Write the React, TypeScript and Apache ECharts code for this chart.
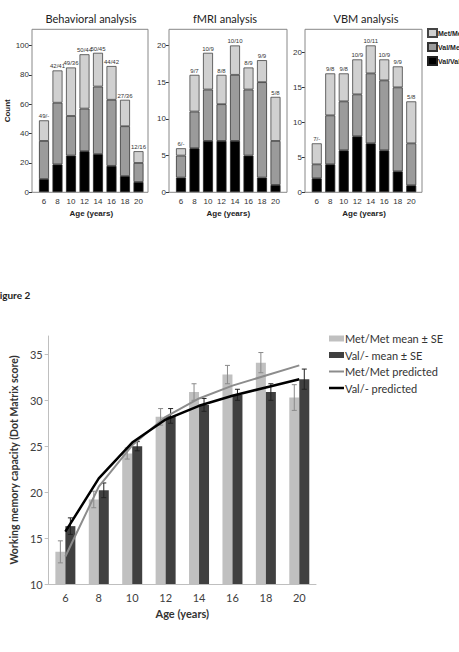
import React, { useEffect, useRef } from "react";
import * as echarts from "echarts";

// Age groups shared by every panel
const ages = ["6", "8", "10", "12", "14", "16", "18", "20"];

// Behavioral sample, counts per genotype
const behavValVal = [9, 19, 25, 28, 26, 18, 11, 7];
const behavValMet = [26, 42, 27, 29, 46, 45, 34, 13];
const behavMetMet = [14, 22, 33, 37, 23, 23, 18, 8];
const behavLabels = ["49/-", "42/41", "49/36", "50/44", "50/45", "44/42", "27/36", "12/16"];

// fMRI sample
const fmriValVal = [2, 6, 7, 7, 7, 5, 2, 1];
const fmriValMet = [3, 5, 7, 5, 9, 9, 13, 6];
const fmriMetMet = [1, 5, 5, 4, 4, 3, 3, 6];
const fmriLabels = ["6/-", "9/7", "10/9", "8/8", "10/10", "8/9", "9/9", "5/8"];

// VBM sample
const vbmValVal = [2, 4, 6, 8, 7, 6, 3, 1];
const vbmValMet = [2, 7, 7, 6, 10, 10, 12, 6];
const vbmMetMet = [3, 6, 4, 5, 4, 3, 3, 6];
const vbmLabels = ["7/-", "9/8", "9/8", "10/9", "10/11", "10/9", "9/9", "5/8"];

// Working memory (Dot Matrix score) by genotype group
const metMean = [13.5, 19.2, 24.2, 28.2, 30.9, 32.8, 34.1, 30.3];
const metSE = [1.2, 0.9, 0.6, 0.9, 0.9, 1.0, 1.1, 1.4];
const valMean = [16.3, 20.2, 25.0, 28.3, 29.5, 30.6, 30.9, 32.3];
const valSE = [0.9, 0.8, 0.5, 0.8, 0.7, 0.6, 0.9, 1.1];
const metPred = [13.0, 20.6, 25.1, 28.2, 30.2, 31.6, 32.7, 33.8];
const valPred = [15.7, 21.5, 25.4, 27.9, 29.4, 30.5, 31.4, 32.3];

// [min, max, interval] of each count axis
const behavAxis = [0, 111, 20];
const fmriAxis = [0, 22.2, 5];
const vbmAxis = [0, 23.3, 5];

const ARIAL = "Liberation Sans";
const CAL = "Lato";

const C_LIGHT = "#d0d0d0";
const C_MID = "#9b9b9b";
const C_DARK = "#000000";

export default function App() {
  const ref = useRef<HTMLDivElement>(null);

  useEffect(() => {
    if (!ref.current) return;
    const chart = echarts.init(ref.current, null, { renderer: "svg" });

    const panels = [
      { title: "Behavioral analysis", vv: behavValVal, vm: behavValMet, mm: behavMetMet, labels: behavLabels, ax: behavAxis, gridLeft: 37.25, frameX: 32, frameW: 116, yName: "Count", titleX: 91 },
      { title: "fMRI analysis", vv: fmriValVal, vm: fmriValMet, mm: fmriMetMet, labels: fmriLabels, ax: fmriAxis, gridLeft: 174.25, frameX: 169, frameW: 118, yName: "", titleX: 225 },
      { title: "VBM analysis", vv: vbmValVal, vm: vbmValMet, mm: vbmMetMet, labels: vbmLabels, ax: vbmAxis, gridLeft: 310, frameX: 305, frameW: 117, yName: "", titleX: 366 },
    ];

    const TOP = 29.3;
    const H = 163;

    const grids: any[] = [];
    const xAxes: any[] = [];
    const yAxes: any[] = [];
    const series: any[] = [];
    const graphics: any[] = [];

    panels.forEach((p, i) => {
      grids.push({ left: p.gridLeft, top: TOP, width: 108, height: H });
      xAxes.push({
        type: "category",
        gridIndex: i,
        data: ages,
        axisLine: { show: false },
        axisTick: { alignWithLabel: true, length: 3, lineStyle: { color: "#333" } },
        axisLabel: { fontFamily: ARIAL, fontSize: 8, color: "#333", margin: 5 },
        name: "Age (years)",
        nameLocation: "middle",
        nameGap: 17,
        nameTextStyle: { fontFamily: ARIAL, fontSize: 8, fontWeight: "bold", color: "#222" },
      });
      yAxes.push({
        type: "value",
        gridIndex: i,
        min: p.ax[0],
        max: p.ax[1],
        interval: p.ax[2],
        offset: p.gridLeft - p.frameX,
        axisLine: { show: false },
        axisTick: { show: true, length: 3, lineStyle: { color: "#333" } },
        splitLine: { show: false },
        axisLabel: { fontFamily: ARIAL, fontSize: 8, color: "#333", margin: 3, showMaxLabel: false },
        name: p.yName,
        nameLocation: "middle",
        nameGap: 13,
        nameTextStyle: { fontFamily: ARIAL, fontSize: 8, fontWeight: "bold", color: "#222" },
      });
      const common = {
        type: "bar",
        xAxisIndex: i,
        yAxisIndex: i,
        stack: "p" + i,
        barWidth: 10,
      };
      series.push({ ...common, name: "Val/Val", data: p.vv, itemStyle: { color: C_DARK, borderColor: "#222", borderWidth: 0.8 } });
      series.push({ ...common, name: "Val/Met", data: p.vm, itemStyle: { color: C_MID, borderColor: "#333", borderWidth: 0.8 } });
      series.push({
        ...common,
        name: "Met/Met",
        data: p.mm,
        itemStyle: { color: C_LIGHT, borderColor: "#444", borderWidth: 0.8 },
        label: {
          show: true,
          position: "top",
          distance: 1,
          fontFamily: ARIAL,
          fontSize: 6,
          color: "#333",
          formatter: (d: any) => p.labels[d.dataIndex],
        },
      });
      graphics.push({
        type: "rect",
        shape: { x: p.frameX, y: TOP, width: p.frameW, height: H },
        style: { fill: "none", stroke: "#888", lineWidth: 1 },
        z: 10,
      });
      graphics.push({
        type: "text",
        x: p.titleX,
        y: 18,
        style: { text: p.title, font: `11px ${CAL}`, fill: "#222", textAlign: "center", textVerticalAlign: "middle" },
      });
    });

    // Working memory chart
    grids.push({ left: 44, top: 336, width: 272, height: 248 });
    xAxes.push({
      type: "category",
      gridIndex: 3,
      data: ages,
      axisLine: { lineStyle: { color: "#bfbfbf" } },
      axisTick: { length: 4, lineStyle: { color: "#bfbfbf" } },
      axisLabel: { fontFamily: CAL, fontSize: 11, color: "#404040", margin: 8 },
      name: "Age (years)",
      nameLocation: "middle",
      nameGap: 24,
      nameTextStyle: { fontFamily: CAL, fontSize: 11, fontWeight: "bold", color: "#333" },
    });
    yAxes.push({
      type: "value",
      gridIndex: 3,
      min: 10,
      max: 37,
      interval: 5,
      axisLine: { show: true, lineStyle: { color: "#bfbfbf" } },
      axisTick: { show: true, length: 4, lineStyle: { color: "#bfbfbf" } },
      splitLine: { show: false },
      axisLabel: { fontFamily: CAL, fontSize: 11, color: "#404040", margin: 6, showMaxLabel: false },
      name: "Working memory capacity (Dot Matrix score)",
      nameLocation: "middle",
      nameGap: 22,
      nameTextStyle: { fontFamily: CAL, fontSize: 10.5, fontWeight: "bold", color: "#333" },
    });

    series.push({
      type: "bar",
      name: "Met/Met mean ± SE",
      xAxisIndex: 3,
      yAxisIndex: 3,
      data: metMean,
      barWidth: 10,
      barGap: "0%",
      itemStyle: { color: "#c0c0c0" },
    });
    series.push({
      type: "bar",
      name: "Val/- mean ± SE",
      xAxisIndex: 3,
      yAxisIndex: 3,
      data: valMean,
      barWidth: 10,
      barGap: "0%",
      itemStyle: { color: "#404040" },
    });

    const errorSeries = (mean: number[], se: number[], dx: number, color: string) => ({
      type: "custom",
      xAxisIndex: 3,
      yAxisIndex: 3,
      z: 5,
      data: mean.map((m, i) => [i, m, se[i]]),
      encode: { x: 0, y: 1 },
      renderItem: (_params: any, api: any) => {
        const idx = api.value(0);
        const m = api.value(1);
        const s = api.value(2);
        const hi = api.coord([idx, m + s]);
        const lo = api.coord([idx, m - s]);
        const x = hi[0] + dx;
        const st = { stroke: color, lineWidth: 1 };
        return {
          type: "group",
          children: [
            { type: "line", shape: { x1: x, y1: hi[1], x2: x, y2: lo[1] }, style: st },
            { type: "line", shape: { x1: x - 2.5, y1: hi[1], x2: x + 2.5, y2: hi[1] }, style: st },
            { type: "line", shape: { x1: x - 2.5, y1: lo[1], x2: x + 2.5, y2: lo[1] }, style: st },
          ],
        };
      },
    });
    series.push(errorSeries(metMean, metSE, -5, "#8a8a8a"));
    series.push(errorSeries(valMean, valSE, 5, "#222"));

    series.push({
      type: "line",
      name: "Met/Met predicted",
      xAxisIndex: 3,
      yAxisIndex: 3,
      data: metPred,
      symbol: "none",
      z: 6,
      lineStyle: { color: "#8c8c8c", width: 2 },
      itemStyle: { color: "#8c8c8c" },
    });
    series.push({
      type: "line",
      name: "Val/- predicted",
      xAxisIndex: 3,
      yAxisIndex: 3,
      data: valPred,
      symbol: "none",
      z: 7,
      lineStyle: { color: "#000", width: 2.5 },
      itemStyle: { color: "#000" },
    });

    graphics.push({
      type: "text",
      x: -6,
      y: 295,
      style: { text: "Figure 2", font: `bold 10px ${CAL}`, fill: "#222", textVerticalAlign: "middle" },
    });

    chart.setOption({
      animation: false,
      backgroundColor: "#fff",
      grid: grids,
      xAxis: xAxes,
      yAxis: yAxes,
      series,
      graphic: graphics,
      legend: [
        {
          data: ["Met/Met", "Val/Met", "Val/Val"],
          orient: "vertical",
          left: 427,
          top: 28,
          padding: 0,
          itemWidth: 9,
          itemHeight: 8,
          itemGap: 4,
          selectedMode: false,
          icon: "rect",
          textStyle: { fontFamily: ARIAL, fontSize: 7, fontWeight: "bold", color: "#222", padding: [0, 0, 0, -4] },
        },
        {
          data: [
            { name: "Met/Met mean ± SE", icon: "rect" },
            { name: "Val/- mean ± SE", icon: "rect" },
            { name: "Met/Met predicted", icon: "path://M0 0H30V4H0Z" },
            { name: "Val/- predicted", icon: "path://M0 0H30V5H0Z" },
          ],
          orient: "vertical",
          left: 329,
          top: 333,
          padding: 0,
          itemWidth: 15,
          itemHeight: 6,
          itemGap: 5.5,
          selectedMode: false,
          textStyle: { fontFamily: CAL, fontSize: 11, color: "#333", padding: [0, 0, 0, -4] },
        },
      ],
    });

    return () => chart.dispose();
  }, []);

  return <div ref={ref} style={{ position: "absolute", left: 0, top: 0, width: 459, height: 652 }} />;
}
